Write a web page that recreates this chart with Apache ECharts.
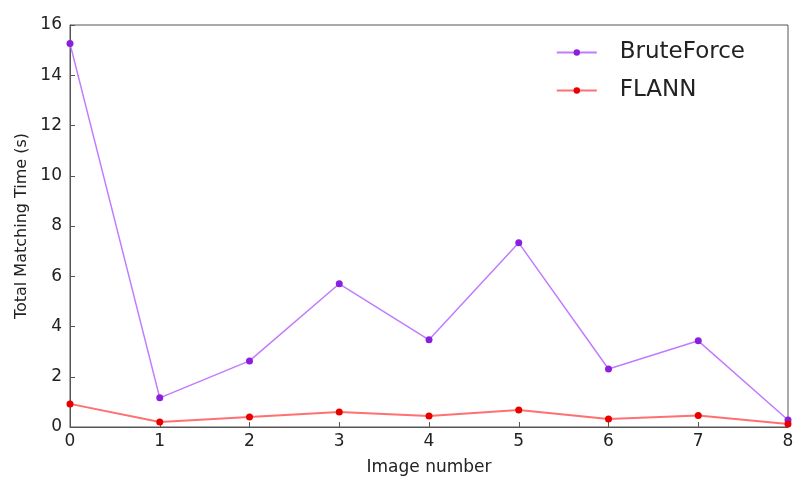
<!DOCTYPE html>
<html>
<head>
<meta charset="utf-8">
<script src="https://cdn.jsdelivr.net/npm/echarts@6/dist/echarts.min.js"></script>
<style>
  html, body { margin: 0; padding: 0; background: #fff; }
  #chart { width: 795px; height: 478px; }
</style>
</head>
<body>
<div id="chart"></div>
<script>
// data
var images = ['0', '1', '2', '3', '4', '5', '6', '7', '8'];
var bruteForce = [15.26, 1.16, 2.63, 5.70, 3.47, 7.33, 2.31, 3.43, 0.28];
var flann = [0.92, 0.20, 0.40, 0.60, 0.44, 0.68, 0.32, 0.46, 0.12];
var yTicks = [0, 2, 4, 6, 8, 10, 12, 14, 16];

var font = 'DejaVu Sans';

var myChart = echarts.init(document.getElementById('chart'));
var option = {
  backgroundColor: '#fff',
  animation: false,
  textStyle: { fontFamily: font },
  grid: {
    left: 70, right: 7, top: 25, bottom: 51,
    outerBoundsMode: 'none',
    show: true, borderColor: '#555', borderWidth: 1
  },
  legend: {
    top: 36, right: 45,
    orient: 'vertical',
    itemGap: 15,
    itemWidth: 40, itemHeight: 8,
    textStyle: { fontSize: 23, color: '#222', fontFamily: font, padding: [0, 0, 0, 18] },
    data: ['BruteForce', 'FLANN']
  },
  xAxis: {
    type: 'category',
    data: images,
    boundaryGap: false,
    name: 'Image number',
    nameLocation: 'middle',
    nameGap: 32,
    nameTextStyle: { fontSize: 17, color: '#222' },
    axisLine: { lineStyle: { color: '#555' } },
    axisTick: { inside: true, length: 5, lineStyle: { color: '#555' } },
    axisLabel: { fontSize: 17, color: '#222', margin: 6 },
    splitLine: { show: false }
  },
  yAxis: {
    type: 'value',
    min: yTicks[0], max: yTicks[yTicks.length - 1], interval: 2,
    name: 'Total Matching Time (s)',
    nameLocation: 'middle',
    nameGap: 40,
    nameTextStyle: { fontSize: 16, color: '#222' },
    axisLine: { show: true, lineStyle: { color: '#555' } },
    axisTick: { show: true, inside: true, length: 5, lineStyle: { color: '#555' } },
    axisLabel: { fontSize: 17, color: '#222', margin: 8 },
    splitLine: { show: false }
  },
  series: [
    {
      name: 'BruteForce',
      type: 'line',
      data: bruteForce,
      symbol: 'circle',
      symbolSize: 7,
      itemStyle: { color: '#8a1fe0' },
      lineStyle: { color: '#c17bff', width: 1.5 }
    },
    {
      name: 'FLANN',
      type: 'line',
      data: flann,
      symbol: 'circle',
      symbolSize: 7,
      itemStyle: { color: '#e80000' },
      lineStyle: { color: '#ff7070', width: 2 }
    }
  ]
};
myChart.setOption(option);
</script>
</body>
</html>
